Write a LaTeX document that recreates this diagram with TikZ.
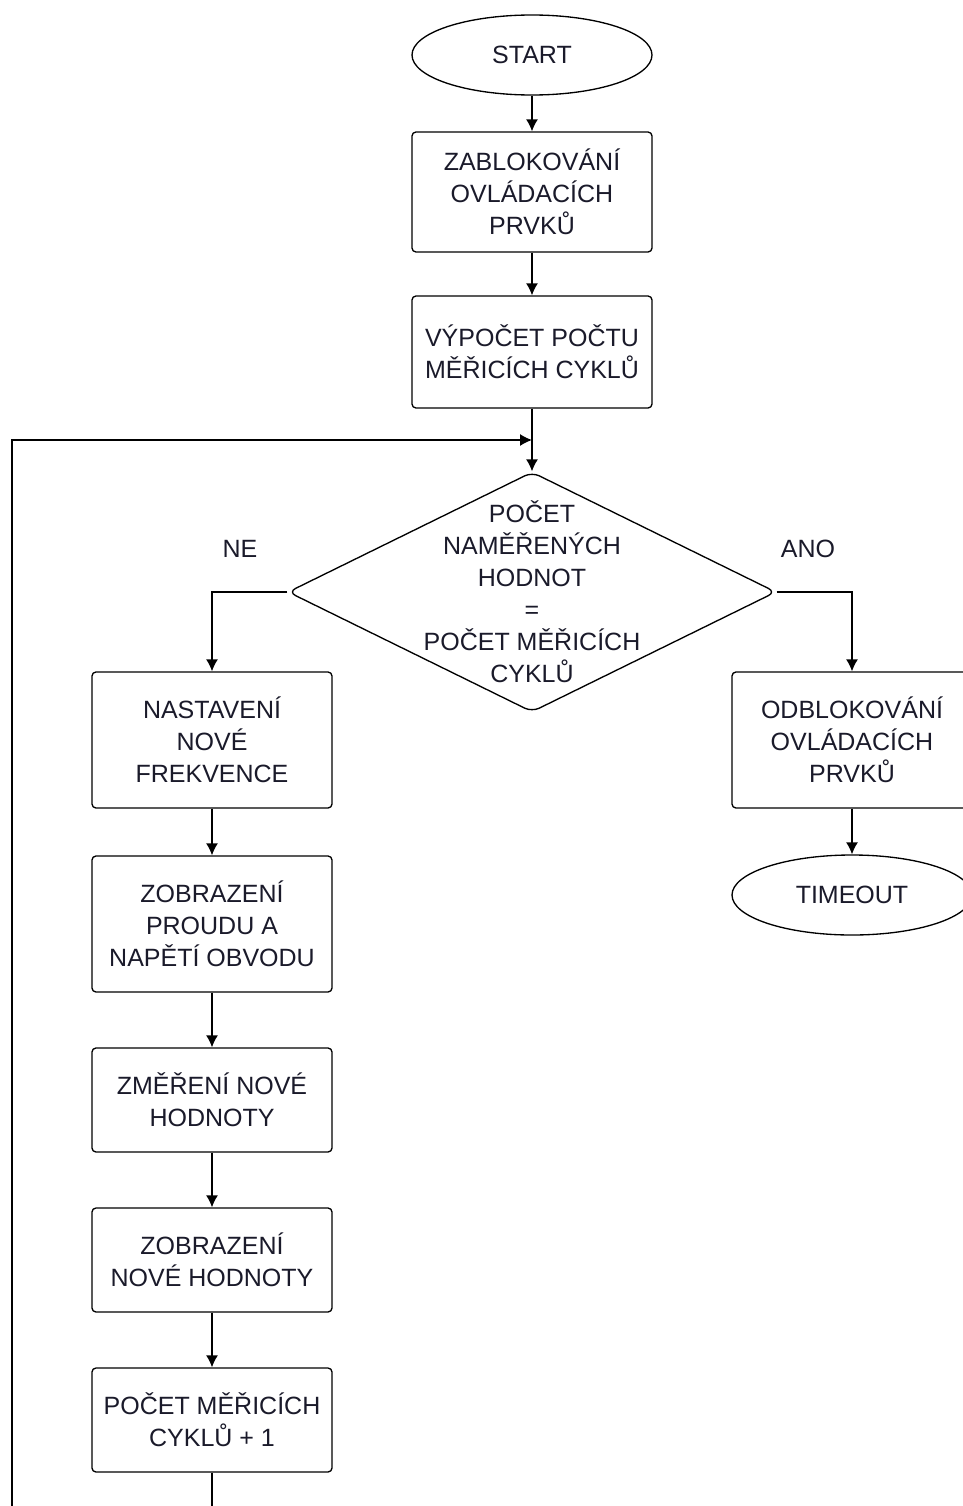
\documentclass[tikz,border=0pt]{standalone}
\usepackage{fontspec}
\setmainfont{Liberation Sans}
\usetikzlibrary{shapes.geometric,arrows.meta}
\definecolor{txt}{HTML}{1A1A2A}
\tikzset{
    every node/.style={font=\fontsize{18.75pt}{24pt}\selectfont, text=txt, align=center},
    term/.style={draw, ellipse, minimum width=180pt, minimum height=60pt, inner sep=0pt},
    proc/.style={draw, rounded corners=3pt, minimum width=180pt, inner sep=0pt},
    decision/.style={draw, diamond, rounded corners=6pt, minimum width=366pt, minimum height=180pt, inner sep=0pt},
}
\begin{document}
\begin{tikzpicture}[x=.75pt, y=-.75pt, >={Latex[length=9pt,width=9pt]}, line width=1pt]
\useasboundingbox (0,0) rectangle (963,1506);
\clip (0,0) rectangle (963,1506);
% main column
\node[term] (start) at (532,55) {START};
\node[proc, minimum height=90pt] (lock) at (532,192) {ZABLOKOVÁNÍ\\OVLÁDACÍCH\\PRVKŮ};
\node[proc, minimum height=84pt] (calc) at (532,352) {VÝPOČET POČTU\\MĚŘICÍCH CYKLŮ};
\coordinate (join) at (532,440);
\node[decision] (dec) at (532,592) {};
\node (dectext) at (532,592) {POČET\\NAMĚŘENÝCH\\HODNOT\\=\\POČET MĚŘICÍCH\\CYKLŮ};
\node (no) at (240,549) {NE};
\node (yes) at (808,549) {ANO};
% left branch
\node[proc, minimum height=102pt] (freq) at (212,740) {NASTAVENÍ\\NOVÉ\\FREKVENCE};
\node[proc, minimum height=102pt] (show) at (212,924) {ZOBRAZENÍ\\PROUDU A\\NAPĚTÍ OBVODU};
\node[proc, minimum height=78pt] (meas) at (212,1100) {ZMĚŘENÍ NOVÉ\\HODNOTY};
\node[proc, minimum height=78pt] (val) at (212,1260) {ZOBRAZENÍ\\NOVÉ HODNOTY};
\node[proc, minimum height=78pt] (cnt) at (212,1420) {POČET MĚŘICÍCH\\CYKLŮ + 1};
% right branch
\node[proc, minimum height=102pt] (unlock) at (852,740) {ODBLOKOVÁNÍ\\OVLÁDACÍCH\\PRVKŮ};
\node[term] (tout) at (852,895) {TIMEOUT};
\coordinate (loopbot) at (212,1540);
\coordinate (loopleft) at (12,1540);
% connectors
\draw[->] (start) -- (lock);
\draw[->] (lock) -- (calc);
\draw[->] (calc) -- (dec.north);
\draw[->] (loopleft) |- (join);
\draw (cnt) -- (loopbot) -- (loopleft);
\draw[->] (dec.west) -| (freq.north);
\draw[->] (dec.east) -| (unlock.north);
\draw[->] (freq) -- (show);
\draw[->] (show) -- (meas);
\draw[->] (meas) -- (val);
\draw[->] (val) -- (cnt);
\draw[->] (unlock) -- (tout);
\end{tikzpicture}
\end{document}
